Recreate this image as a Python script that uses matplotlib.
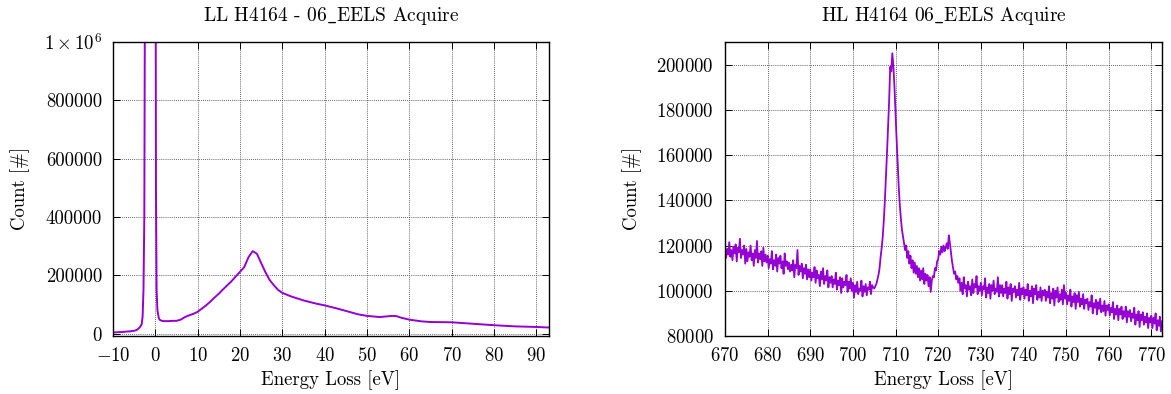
import numpy as np
import matplotlib
matplotlib.use("Agg")
import matplotlib.pyplot as plt

plt.rcParams['font.family'] = ['cmr10', 'DejaVu Serif']
plt.rcParams['mathtext.fontset'] = 'cm'
plt.rcParams['axes.formatter.use_mathtext'] = True
FS = 13.5
plt.rcParams['font.size'] = FS

# ---------------- Low-loss spectrum (left) ----------------
ll_energy = [-10, -9, -8, -7, -6, -5, -4.5, -4, -3.5, -3.2, -3.0, -2.8, -2.6, -2.4, -2.2,
             -1.2, -0.3, 0.0, 0.15, 0.3, 0.5, 0.8, 1.0, 1.5, 2, 3, 4, 5, 6, 7, 8, 9,
             10, 11, 12, 13, 14, 15, 16, 17, 18, 19, 20, 21, 22, 23, 24, 25, 26, 27,
             28, 29, 30, 32, 35, 38, 40, 43, 45, 48, 50, 53, 56, 57, 58, 60, 63, 65,
             70, 75, 80, 85, 90, 93]
ll_counts = [4000, 5000, 5500, 7000, 8000, 10000, 12000, 17000, 25000, 34000, 60000, 150000,
             400000, 1500000, 5000000, 10000000, 5000000, 2000000, 500000, 150000, 80000,
             55000, 48000, 44000, 43000, 43000, 44000, 44000, 48000, 57000, 63000, 68000,
             75000, 86000, 97000, 110000, 124000, 137000, 152000, 166000, 180000, 196000,
             212000, 228000, 262000, 283000, 274000, 242000, 211000, 184000, 166000, 150000,
             140000, 128000, 114000, 103000, 97000, 86000, 78000, 66000, 61000, 57000, 61000,
             60000, 55000, 48000, 42000, 40000, 39000, 34000, 29000, 25000, 23000, 21000]
ll_yticks = [0, 200000, 400000, 600000, 800000, 1000000]
ll_yticklabels = ['0', '200000', '400000', '600000', '800000', r'$1\times10^6$']
ll_xticks = [-10, 0, 10, 20, 30, 40, 50, 60, 70, 80, 90]

# ---------------- High-loss spectrum (right), counts in thousands, 0.25 eV steps ----------------
hl_start, hl_step = 670.0, 0.25
hl_counts_k = [
    # 670 - 674.75
    120, 114.5, 118.5, 116, 121.5, 115, 118, 113.5, 119.5, 116.5, 120.5, 113, 119, 117, 123, 114.5, 118, 116, 120, 112,
    # 675 - 679.75
    118.5, 113, 117, 115, 120, 113.5, 116.5, 111, 118, 114.5, 122, 112.5, 116.5, 114, 117.5, 111, 119, 113, 116, 112.5,
    # 680 - 684.75
    115.5, 110, 114, 112, 117.5, 109.5, 113.5, 111, 116, 108.5, 114.5, 112, 115.5, 110, 113, 107.5, 116.5, 111, 113, 109.5,
    # 685 - 689.75
    112.5, 108.5, 111.5, 109, 113.5, 106, 111.5, 110, 118, 107, 111, 108.5, 112, 105.5, 110, 107.5, 111.5, 105, 109.5, 106,
    # 690 - 694.75
    109.5, 104.5, 108, 106, 110.5, 103.5, 109, 105.5, 107, 102, 108.5, 105, 110, 103, 106.5, 104.5, 109, 101.5, 106, 103.5,
    # 695 - 699.75
    106.5, 101.5, 105, 103, 108, 100.5, 104.5, 102.5, 106, 99, 105.5, 101.5, 104, 102.5, 107, 99.5, 104, 101, 105.5, 100,
    # 700 - 704.75
    103.5, 97, 102.5, 99.5, 104, 98.5, 101, 100, 104.5, 97.5, 102, 99.5, 103, 98, 101.5, 100.5, 104, 98.5, 102.5, 101.5,
    # 705 - 709.75
    101, 102, 103, 105, 107, 110, 115, 119, 124, 131, 140, 150, 161, 172, 184, 199, 197, 205, 199, 190,
    # 710 - 714.75
    178, 167, 156, 146, 138, 132, 127, 124, 121, 118, 120, 114.5, 117.5, 112, 115.5, 110, 113.5, 108, 112.5, 107.5,
    # 715 - 719.75
    111, 106, 110, 104.5, 109, 105, 110, 103, 107.5, 104.5, 107, 102, 106, 99.5, 104.5, 106.5, 106, 110, 109, 113,
    # 720 - 724.75
    114, 117.5, 116, 119.5, 117, 120, 117.5, 119, 121, 118.5, 124.5, 121, 117, 113, 110, 107.5, 108.5, 105, 106.5, 103.5,
    # 725 - 729.75
    105.5, 100, 103.5, 98.5, 106, 101, 102.5, 97.5, 104, 100.5, 102, 98, 105, 99, 103, 101.5, 106.5, 98.5, 102, 100,
    # 730 - 734.75
    103.5, 98, 102, 100.5, 105.5, 97, 101.5, 99, 103, 96.5, 102.5, 100, 104.5, 98.5, 101, 99.5, 106, 97.5, 102.5, 99,
    # 735 - 739.75
    102.5, 97.5, 101, 99, 104, 96.5, 101.5, 98.5, 103, 95.5, 101, 99.5, 102, 97, 100.5, 98, 103.5, 96, 101, 98.5,
    # 740 - 744.75
    101.5, 96.5, 100.5, 98, 103, 95.5, 100, 97.5, 102, 94.5, 101, 98.5, 102.5, 96, 99.5, 97, 101.5, 95.5, 100, 98,
    # 745 - 749.75
    100.5, 95.5, 99.5, 97, 102, 94.5, 99, 96.5, 101, 93.5, 100, 97, 101.5, 95, 98.5, 96, 100.5, 94, 102.5, 96.5,
    # 750 - 754.75
    99, 94, 98, 95.5, 100.5, 93, 97.5, 95, 99, 92, 98, 95, 99.5, 93, 96.5, 94, 98.5, 92, 96, 94.5,
    # 755 - 759.75
    96.5, 91.5, 95, 93, 98, 90, 94.5, 92.5, 96, 89.5, 95, 92, 96.5, 90.5, 93.5, 91, 95.5, 89, 93.5, 91.5,
    # 760 - 764.75
    94, 89, 92.5, 90.5, 95, 87.5, 92, 89.5, 93.5, 87, 92, 89.5, 93, 87.5, 91, 88.5, 93, 86, 91, 88.5,
    # 765 - 769.75
    91.5, 86.5, 90, 88, 92.5, 85, 89.5, 87, 91, 84, 89.5, 87, 90.5, 85, 88.5, 86, 90, 83.5, 88, 86,
    # 770 - 772.5
    89, 83.5, 88, 85.5, 90, 82.5, 87, 84.5, 88.5, 82, 86.5,
]
hl_energy = hl_start + hl_step * np.arange(len(hl_counts_k))
hl_counts = np.array(hl_counts_k) * 1000
hl_yticks = [80000, 100000, 120000, 140000, 160000, 180000, 200000]
hl_xticks = [670, 680, 690, 700, 710, 720, 730, 740, 750, 760, 770]

line_color = '#9400D3'

fig = plt.figure(figsize=(11.71, 3.94), dpi=100)
ax1 = fig.add_axes([113/1171, 1-336/394, (549-113)/1171, (336-42)/394])
ax2 = fig.add_axes([725/1171, 1-336/394, (1162-725)/1171, (336-42)/394])

ax1.plot(ll_energy, ll_counts, color=line_color, lw=1.4)
ax1.set_xlim(-10, 93)
ax1.set_ylim(-8000, 1000000)
ax1.set_xticks(ll_xticks)
ax1.set_yticks(ll_yticks)
ax1.set_yticklabels(ll_yticklabels)
ax1.set_title(r'LL H4164 - 06$\_$EELS Acquire', fontsize=14, pad=15)

ax2.plot(hl_energy, hl_counts, color=line_color, lw=1.3)
ax2.set_xlim(670, 772.5)
ax2.set_ylim(80000, 210000)
ax2.set_xticks(hl_xticks)
ax2.set_yticks(hl_yticks)
ax2.set_title(r'HL H4164 06$\_$EELS Acquire', fontsize=14, pad=15)

for ax in (ax1, ax2):
    ax.set_xlabel('Energy Loss [eV]', fontsize=FS, labelpad=4)
    ax.set_ylabel('Count [#]', fontsize=FS, labelpad=10)
    ax.grid(True, color='0.2', linestyle=(0, (1, 1.5)), lw=0.6)
    ax.tick_params(direction='in', top=True, right=True, length=5, width=0.7, labelsize=FS, pad=8)
    for s in ax.spines.values():
        s.set_linewidth(1.0)
    ax.set_axisbelow(True)

fig.savefig('out.png', dpi=100)
